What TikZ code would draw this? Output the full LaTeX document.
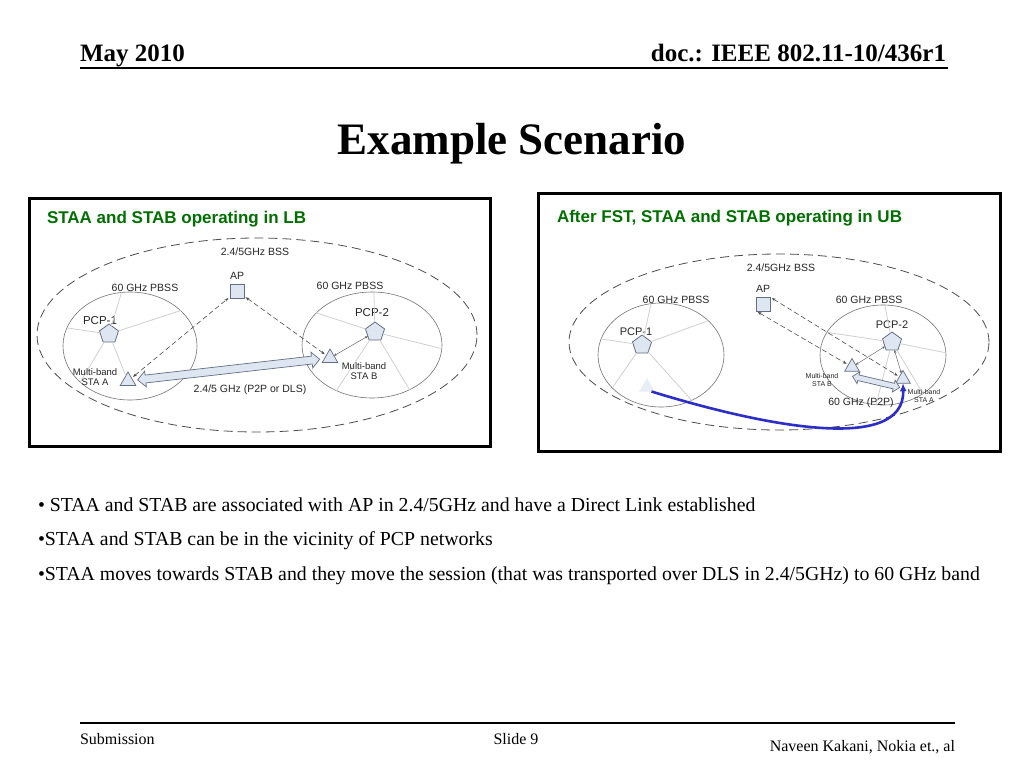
\documentclass[tikz,border=0pt]{standalone}
\usepackage{fontspec}
\setmainfont{Liberation Serif}
\newfontfamily\diagfont{Liberation Sans}
\usetikzlibrary{shapes.geometric, shapes.arrows, arrows.meta, positioning, calc}

\definecolor{fstgreen}{RGB}{0,112,0}
\definecolor{stafill}{RGB}{222,230,242}
\definecolor{staline}{RGB}{100,110,130}
\definecolor{spokegray}{RGB}{208,208,208}
\definecolor{moveblue}{RGB}{45,45,200}

\begin{document}
\begin{tikzpicture}[x=1pt, y=-1pt,
	every node/.style={inner sep=0pt, outer sep=0pt},
	hdr/.style={font=\bfseries\fontsize{25}{28}\selectfont},
	foot/.style={font=\fontsize{16}{18}\selectfont},
	bullet/.style={font=\fontsize{19.8}{22}\selectfont, anchor=west},
	paneltitle/.style={font=\diagfont\bfseries\fontsize{17}{19}\selectfont, text=fstgreen, anchor=west},
	lbl/.style={font=\diagfont\fontsize{10.5}{12}\selectfont, text=black!85},
	small/.style={font=\diagfont\fontsize{9.5}{10.5}\selectfont, text=black!85, align=center},
	tiny/.style={font=\diagfont\fontsize{7}{8}\selectfont, text=black!85, align=center},
	pcp/.style={regular polygon, regular polygon sides=5, draw=staline, fill=stafill, minimum size=20pt, line width=0.8pt},
	sta/.style={regular polygon, regular polygon sides=3, draw=staline, fill=stafill, minimum size=18pt, line width=0.7pt},
	ghost/.style={regular polygon, regular polygon sides=3, fill=stafill!70, minimum size=18pt},
	apbox/.style={rectangle, draw=staline, fill=stafill, minimum size=14pt, line width=0.7pt},
	pbss/.style={ellipse, draw=black!55, line width=0.6pt},
	bss/.style={ellipse, draw=black!70, dash pattern=on 9pt off 5pt, line width=0.8pt},
	spoke/.style={draw=spokegray, line width=0.8pt},
	assoc/.style={draw=black!70, dash pattern=on 5pt off 3pt, line width=0.6pt,
		{Stealth[length=4pt, width=3pt]}-{Stealth[length=4pt, width=3pt]}, shorten <=2pt, shorten >=2pt},
	beacon/.style={draw=black!60, line width=0.5pt, {Stealth[length=3pt, width=2.5pt]}-{Stealth[length=3pt, width=2.5pt]}},
	dlink/.style={double arrow, draw=staline, fill=stafill, line width=0.7pt, inner xsep=0pt, inner ysep=3.6pt,
		double arrow head extend=4pt},
	panel/.style={draw, line width=3pt}
]
	\fill[white] (0,0) rectangle (1024,768);
	\useasboundingbox (0,0) rectangle (1024,768);

	% slide frame
	\node[hdr, anchor=base west] (date) at (80,62) {May 2010};
	\node[hdr, anchor=base east] (doc) at (946,62) {doc.: IEEE 802.11-10/436r1};
	\draw[line width=1.6pt] (80,68) -- (948,68);
	\node[font=\bfseries\fontsize{45}{50}\selectfont, anchor=base] (title) at (512,154) {Example Scenario};

	% before: low band
	\draw[panel] (29,198) rectangle (490,446);
	\node[paneltitle] (titleL) at (47,219) {STAA and STAB operating in LB};
	\node[bss, minimum width=440pt, minimum height=194pt] (bssL) at (257,335) {};
	\node[lbl] (bssLlbl) at (255,252) {2.4/5GHz BSS};
	\node[pbss, minimum width=134pt, minimum height=108pt] (pbssL1) at (130,346) {};
	\node[pbss, minimum width=140pt, minimum height=106pt] (pbssL2) at (372,345) {};
	\node[lbl] (pbssL1lbl) at (145,288) {60 GHz PBSS};
	\node[lbl] (pbssL2lbl) at (350,286) {60 GHz PBSS};

	\node[apbox] (apL) at (237,291) {};
	\node[lbl, above=5pt of apL] (apLlbl) {AP};
	\node[pcp] (pcpL1) at (109,334) {};
	\node[pcp] (pcpL2) at (375,332) {};
	\node[lbl, font=\diagfont\fontsize{11.5}{13}\selectfont] (pcpL1lbl) at (100,321) {PCP-1};
	\node[lbl, font=\diagfont\fontsize{11.5}{13}\selectfont] (pcpL2lbl) at (372,313) {PCP-2};

	\foreach \a in {99,35,164,216}
		\draw[spoke] (pcpL1) -- (pbssL1.\a);
	\foreach \a in {88,150,-3,232,310}
		\draw[spoke] (pcpL2) -- (pbssL2.\a);

	\node[sta] (staLA) at (128,381) {};
	\node[sta] (staLB) at (330,358) {};
	\draw[spoke] (pcpL1) -- (staLA);
	\node[small] (staLAlbl) at (95,377) {Multi-band\\STA A};
	\node[small] (staLBlbl) at (364,371) {Multi-band\\STA B};

	\draw[assoc] (staLA) -- (apL);
	\draw[assoc] (apL) -- (staLB);
	\draw[beacon] (staLB) -- (pcpL2);
	\path let \p1=($(staLB)-(staLA)$), \n1={veclen(\x1,\y1)} in
		(staLA) -- (staLB) node[dlink, midway, sloped, minimum height=\n1-20pt] (dlsL) {};
	\node[lbl] (dlsLlbl) at (250,390) {2.4/5 GHz (P2P or DLS)};

	% after FST: upper band
	\draw[panel] (538,193) rectangle (1000,451);
	\node[paneltitle] (titleR) at (557,218) {After FST, STAA and STAB operating in UB};
	\node[bss, minimum width=420pt, minimum height=176pt] (bssR) at (779,342) {};
	\node[lbl] (bssRlbl) at (781,268) {2.4/5GHz BSS};
	\node[pbss, minimum width=126pt, minimum height=104pt] (pbssR1) at (661,355) {};
	\node[pbss, minimum width=126pt, minimum height=100pt] (pbssR2) at (883,355) {};
	\node[lbl] (pbssR1lbl) at (676,300) {60 GHz PBSS};
	\node[lbl] (pbssR2lbl) at (869,300) {60 GHz PBSS};

	\node[apbox] (apR) at (763,304) {};
	\node[lbl, above=5pt of apR] (apRlbl) {AP};
	\node[pcp] (pcpR1) at (642,345) {};
	\node[pcp] (pcpR2) at (892,342) {};
	\node[lbl, font=\diagfont\fontsize{11}{13}\selectfont] (pcpR1lbl) at (636,332) {PCP-1};
	\node[lbl, font=\diagfont\fontsize{11}{13}\selectfont] (pcpR2lbl) at (892,325) {PCP-2};

	\foreach \a in {101,36,165,214,304}
		\draw[spoke] (pcpR1) -- (pbssR1.\a);
	\foreach \a in {88,158,2,316,262}
		\draw[spoke] (pcpR2) -- (pbssR2.\a);

	\node[ghost] (ghostA) at (647,387) {};
	\node[sta, minimum size=17pt] (staRB) at (852,367) {};
	\node[sta, minimum size=17pt] (staRA) at (903,379) {};
	\node[tiny] (staRBlbl) at (822,380) {Multi-band\\STA B};
	\node[tiny] (staRAlbl) at (924,396) {Multi-band\\STA A};

	\draw[assoc] (apR.north east) -- (staRA);
	\draw[assoc] (apR.south west) -- (staRB);
	\draw[beacon] (pcpR2) -- (staRB);
	\draw[beacon] (pcpR2) -- (staRA);
	\path let \p1=($(staRA)-(staRB)$), \n1={veclen(\x1,\y1)} in
		(staRB) -- (staRA) node[dlink, midway, sloped, yshift=-9pt, inner ysep=2.5pt, double arrow head extend=3.2pt,
			minimum height=\n1-4pt] (dlsR) {};
	\node[lbl] (p2pRlbl) at (861,403) {60 GHz (P2P)};

	\draw[moveblue, line width=2.6pt, -{Latex[length=8pt, width=7pt]}]
		(ghostA.south east) .. controls (760,425) and (905,455) .. (staRA.south);

	% bullets
	\node[bullet] (b1) at (38,505) {• STAA and STAB are associated with AP in 2.4/5GHz and have a Direct Link established};
	\node[bullet] (b2) at (38,541) {•STAA and STAB can be in the vicinity of PCP networks};
	\node[bullet] (b3) at (38,576) {•STAA moves towards STAB and they move the session (that was transported over DLS in 2.4/5GHz) to 60 GHz band};

	% footer
	\draw[line width=1.6pt] (80,723) -- (955,723);
	\node[foot, anchor=base west] (sub) at (80,744) {Submission};
	\node[foot, anchor=base] (slide) at (516,744) {Slide 9};
	\node[foot, anchor=base east] (author) at (955,751) {Naveen Kakani, Nokia et., al};
\end{tikzpicture}
\end{document}
